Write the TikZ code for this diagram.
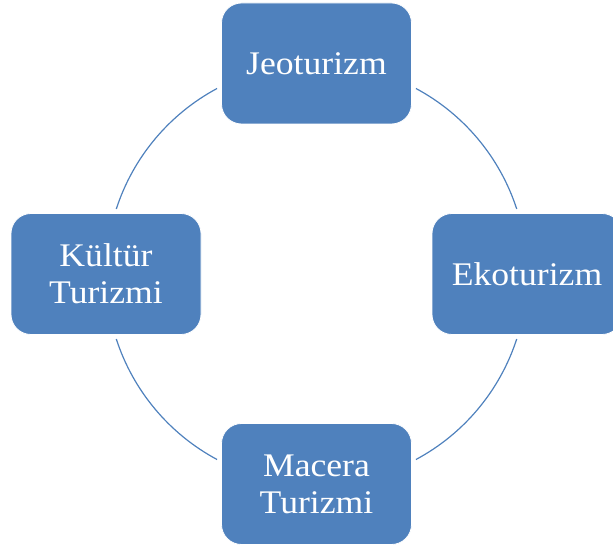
\documentclass[tikz,border=0pt]{standalone}
\usepackage{fontspec}
\setmainfont{Liberation Serif}[FakeStretch=1.08]
\definecolor{boxblue}{HTML}{4F81BD}
\tikzset{
  cyclebox/.style={rectangle, rounded corners=20pt, fill=boxblue, draw=white, line width=0.8pt,
    minimum width=190pt, minimum height=121pt, inner sep=0pt, text=white, align=center,
    font=\fontsize{33}{37}\selectfont},
  cyclearc/.style={draw=boxblue, line width=1.2pt}
}
\begin{document}
\begin{tikzpicture}[x=1pt,y=1pt]
\useasboundingbox (0,0) rectangle (613,546);
\clip (0,0) rectangle (613,546);
\coordinate (c) at (316.5,272);
\draw[cyclearc] ([shift={(18:210.5)}]c) arc[start angle=18, end angle=61.8, radius=210.5];
\draw[cyclearc] ([shift={(118.2:210.5)}]c) arc[start angle=118.2, end angle=162, radius=210.5];
\draw[cyclearc] ([shift={(198:210.5)}]c) arc[start angle=198, end angle=241.8, radius=210.5];
\draw[cyclearc] ([shift={(298.2:210.5)}]c) arc[start angle=298.2, end angle=342, radius=210.5];
\node[cyclebox] (jeo) at (316.5,482.5) {Jeoturizm};
\node[cyclebox] (eko) at (527,272) {Ekoturizm};
\node[cyclebox] (mac) at (316.5,62) {Macera\\Turizmi};
\node[cyclebox] (kul) at (106,272) {Kültür\\Turizmi};
\end{tikzpicture}
\end{document}
